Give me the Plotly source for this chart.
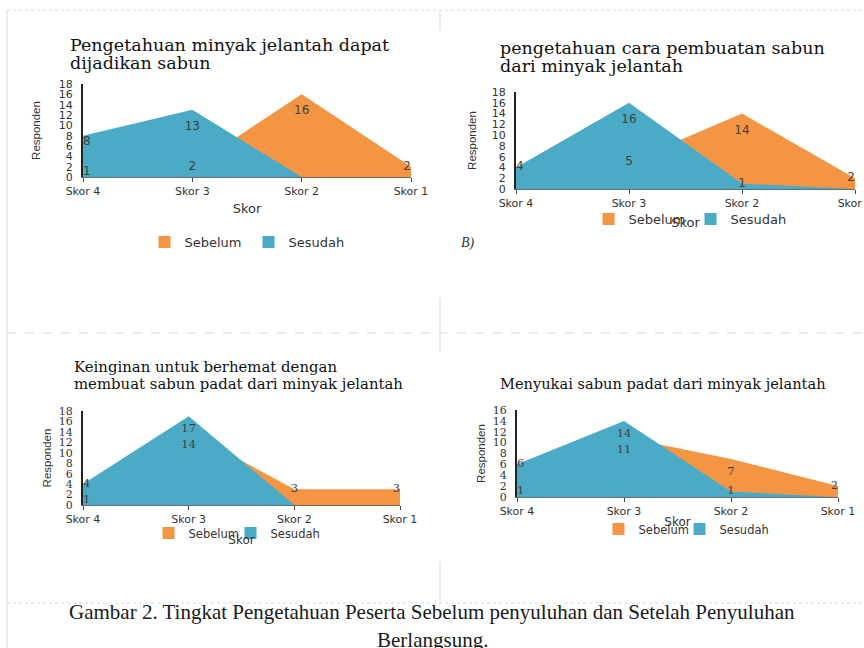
import plotly.graph_objects as go

W, H = 864, 648
ORANGE = "#F39542"
BLUE = "#4BABC6"

# Categories and responses (Sebelum = before, Sesudah = after)
SKOR = ["Skor 4", "Skor 3", "Skor 2", "Skor 1"]
SERIES = ["Sebelum", "Sesudah"]

SEBELUM_1 = [1, 2, 16, 2]
SESUDAH_1 = [8, 13, 0, 0]

SEBELUM_2 = [0, 5, 14, 2]
SESUDAH_2 = [4, 16, 1, 0]

SEBELUM_3 = [1, 14, 3, 3]
SESUDAH_3 = [4, 17, 0, 0]

SEBELUM_4 = [1, 11, 7, 2]
SESUDAH_4 = [6, 14, 1, 0]

Y_MAX = [18, 18, 18, 16]

TITLES = [
    ["Pengetahuan minyak jelantah dapat", "dijadikan sabun"],
    ["pengetahuan cara pembuatan sabun", "dari minyak jelantah"],
    ["Keinginan untuk berhemat dengan", "membuat sabun padat dari minyak jelantah"],
    ["Menyukai sabun padat dari minyak jelantah"],
]
CAPTION_1 = "Gambar 2. Tingkat Pengetahuan Peserta Sebelum penyuluhan dan Setelah Penyuluhan"
CAPTION_2 = "Berlangsung."


def px(x):
    return x / W


def py(y):
    return 1 - y / H


# pixel boxes of each plotting area: x0, x1, y_top, y_bottom
PANELS = [
    dict(box=(83, 411, 84, 177), seb=SEBELUM_1, ses=SESUDAH_1, serif=False,
         title_x=68, title_ys=(45, 63), title_size=17.5, title_align="left",
         swatch_x=(165, 269), legend_y=242, leg_size=13, push=16,
         xtitle_standoff=6, ytitle_standoff=16),
    dict(box=(516, 855, 92, 189), seb=SEBELUM_2, ses=SESUDAH_2, serif=False,
         title_x=498, title_ys=(48, 66), title_size=17.5, title_align="left",
         swatch_x=(609, 711), legend_y=219, leg_size=13, push=16,
         xtitle_standoff=8, ytitle_standoff=13),
    dict(box=(83, 400, 411, 505), seb=SEBELUM_3, ses=SESUDAH_3, serif=True,
         title_x=72, title_ys=(367, 384), title_size=14.9, title_align="left",
         swatch_x=(169, 251), legend_y=533, leg_size=11.5, push=10,
         xtitle_standoff=10, ytitle_standoff=5),
    dict(box=(517, 838, 410, 497), seb=SEBELUM_4, ses=SESUDAH_4, serif=True,
         title_x=663, title_ys=(383,), title_size=14.6, title_align="center",
         swatch_x=(619, 700), legend_y=529, leg_size=11.5, push=10,
         xtitle_standoff=0, ytitle_standoff=5),
]

SANS = "DejaVu Sans, Verdana, sans-serif"
SERIF = "DejaVu Serif, serif"
NARROW = "Liberation Sans Narrow, Liberation Sans, Arial, sans-serif"


def label_positions(values):
    pos = []
    n = len(values)
    for i, v in enumerate(values):
        vert = "bottom" if v >= 7 else "middle"
        horiz = "right" if i == 0 else ("left" if i == n - 1 else "center")
        pos.append(f"{vert} {horiz}")
    return pos


def label_push(values, push):
    # invisible marker size keeps the larger inner labels a little below the peak
    n = len(values)
    return [push if (v >= 7 and 0 < i < n - 1) else 0 for i, v in enumerate(values)]


fig = go.Figure()
layout = dict(
    width=W, height=H,
    margin=dict(l=0, r=0, t=0, b=0),
    paper_bgcolor="white", plot_bgcolor="rgba(0,0,0,0)",
    showlegend=True,
    annotations=[], shapes=[],
)

leg_count = 0
for i, p in enumerate(PANELS, start=1):
    xa = "x" if i == 1 else f"x{i}"
    ya = "y" if i == 1 else f"y{i}"
    x0, x1, yt, yb = p["box"]
    lab_font = dict(family=SERIF if p["serif"] else SANS, size=11.5 if p["serif"] else 12,
                    color="#404040")
    colors = [ORANGE, BLUE]
    values = [p["seb"], p["ses"]]

    for vals, col in zip(values, colors):
        fig.add_trace(go.Scatter(
            x=SKOR, y=vals, mode="lines", fill="tozeroy",
            line=dict(width=0, color=col), fillcolor=col,
            xaxis=xa, yaxis=ya, showlegend=False, hoverinfo="skip"))
    for vals in values:
        fig.add_trace(go.Scatter(
            x=SKOR, y=vals, mode="markers+text",
            marker=dict(size=label_push(vals, p["push"]), opacity=0),
            text=[str(v) if v > 0 else "" for v in vals],
            textposition=label_positions(vals), textfont=lab_font,
            cliponaxis=False, xaxis=xa, yaxis=ya, showlegend=False, hoverinfo="skip"))
    for name, col, sx in zip(SERIES, colors, p["swatch_x"]):
        leg_count += 1
        leg = "legend" if leg_count == 1 else f"legend{leg_count}"
        fig.add_trace(go.Scatter(
            x=[None], y=[None], mode="markers", name=name,
            marker=dict(symbol="square", size=12, color=col),
            xaxis=xa, yaxis=ya, legend=leg))
        layout[leg] = dict(
            orientation="h", x=px(sx - 20.5), y=py(p["legend_y"]),
            xanchor="left", yanchor="middle", bgcolor="rgba(0,0,0,0)",
            itemwidth=30,
            font=dict(family=SANS, size=p["leg_size"], color="#333"),
        )

    key = "" if i == 1 else str(i)
    layout["xaxis" + key] = dict(
        domain=[px(x0), px(x1)], anchor=ya, type="category", range=[0, 3],
        showline=True, linecolor="#6a6a6a", linewidth=1,
        ticks="outside", ticklen=4, tickcolor="#444",
        tickfont=dict(family=SANS, size=11, color="#333"),
        showgrid=False, zeroline=False, automargin=False,
        title=dict(text="Skor", font=dict(family=SANS, size=13 if i <= 2 else 12, color="#333"),
                   standoff=p["xtitle_standoff"]),
    )
    layout["yaxis" + key] = dict(
        domain=[py(yb), py(yt)], anchor=xa, range=[0, Y_MAX[i - 1]], dtick=2,
        showline=True, linecolor="#222", linewidth=2, ticks="",
        ticklabelstandoff=6,
        tickfont=dict(family=SERIF if p["serif"] else SANS, size=11,
                      color="#333"),
        showgrid=False, zeroline=False, automargin=False,
        title=dict(text="Responden", font=dict(family=NARROW, size=11.5, color="#333"),
                   standoff=p["ytitle_standoff"]),
    )
    for line, ty in zip(TITLES[i - 1], p["title_ys"]):
        centred = p["title_align"] == "center"
        layout["annotations"].append(dict(
            text=line, x=px(p["title_x"]), y=py(ty), xref="paper", yref="paper",
            xanchor="center" if centred else "left", yanchor="middle",
            showarrow=False,
            font=dict(family=SERIF, size=p["title_size"], color="#111"),
        ))

# caption beneath the panels
for text, y in ((CAPTION_1, 612), (CAPTION_2, 640)):
    layout["annotations"].append(dict(
        text=text, x=0.5, y=py(y), xref="paper", yref="paper",
        xanchor="center", yanchor="middle", showarrow=False,
        font=dict(family="Liberation Serif, serif", size=21, color="#1a1a1a"),
    ))

layout["annotations"].append(dict(
    text="<i>B)</i>", x=px(459), y=py(243), xref="paper", yref="paper",
    xanchor="left", yanchor="middle", showarrow=False,
    font=dict(family="Liberation Serif, serif", size=14, color="#333"),
))

# faint page-layout rules of the document table
GRID = "#d9d9d9"
rules = [
    (7, 10, 864, 10, "dot"),
    (7, 10, 7, 648, "solid"),
    (440, 10, 440, 30, "solid"),
    (7, 333, 864, 333, "dash"),
    (440, 298, 440, 352, "solid"),
    (440, 562, 440, 603, "solid"),
    (7, 603, 864, 603, "dot"),
]
for a, b, c, d, dash in rules:
    layout["shapes"].append(dict(
        type="line", xref="paper", yref="paper",
        x0=px(a), y0=py(b), x1=px(c), y1=py(d),
        line=dict(color=GRID, width=1, dash=dash), layer="below",
    ))

fig.update_layout(**layout)
fig.write_html("out.html")
